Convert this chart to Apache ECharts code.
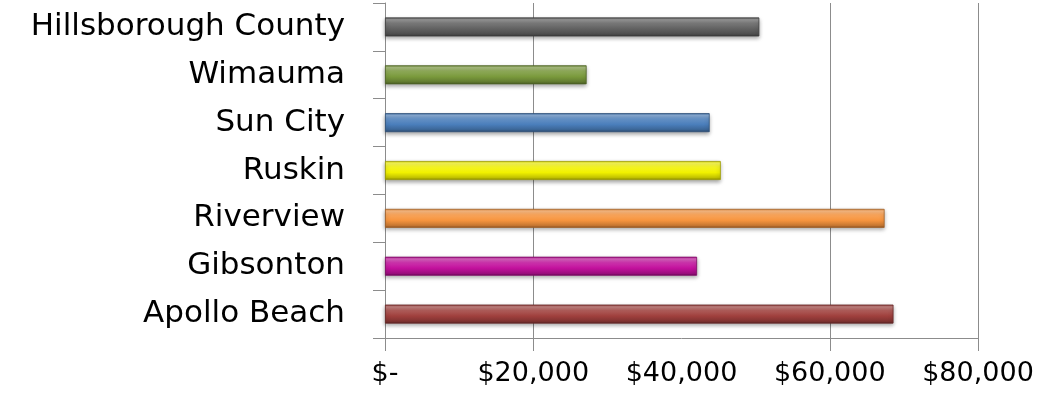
<!doctype html>
<html>
    <head>
        <meta charset="utf-8">
        <title>Median income bars</title>
        <style>
            html, body { margin: 0; padding: 0; background: #fff; }
            #main { width: 1042px; height: 393px; }
        </style>
    </head>
    <body>
        <div id="main"></div>
        <script src="https://cdn.jsdelivr.net/npm/echarts@6/dist/echarts.min.js"></script>
        <script>
            // top to bottom, as in the picture
            var places = ['Hillsborough County', 'Wimauma', 'Sun City', 'Ruskin', 'Riverview', 'Gibsonton', 'Apollo Beach'];
            var incomes = [50500, 27200, 43800, 45300, 67400, 42100, 68600];
            var barColors = ['#616161', '#7a9a3c', '#4a7ebb', '#f2f200', '#f7953f', '#c3119d', '#a0403d'];
            var tickValues = [0, 20000, 40000, 60000, 80000];
            var gridValues = [0, 20000, 60000, 80000];

            function shade(hex, amt) {
                var n = parseInt(hex.slice(1), 16);
                var r = n >> 16, g = (n >> 8) & 255, b = n & 255;
                function f(c) {
                    c = amt > 0 ? c + (255 - c) * amt : c * (1 + amt);
                    return Math.round(Math.max(0, Math.min(255, c)));
                }
                return 'rgb(' + f(r) + ',' + f(g) + ',' + f(b) + ')';
            }

            function bevel(c) {
                return new echarts.graphic.LinearGradient(0, 0, 0, 1, [
                    { offset: 0, color: shade(c, -0.1) },
                    { offset: 0.12, color: shade(c, 0.35) },
                    { offset: 0.3, color: shade(c, 0.15) },
                    { offset: 0.6, color: c },
                    { offset: 0.88, color: shade(c, -0.2) },
                    { offset: 1, color: shade(c, -0.45) }
                ]);
            }

            var chart = echarts.init(document.getElementById('main'));

            chart.setOption({
                animation: false,
                grid: { left: 385, right: 64, top: 3, bottom: 55, containLabel: false },
                xAxis: {
                    type: 'value',
                    min: 0,
                    max: 80000,
                    interval: 20000,
                    axisLine: { show: true, lineStyle: { color: '#8c8c8c', width: 1 } },
                    axisTick: { show: true, length: 13, customValues: gridValues, lineStyle: { color: '#8c8c8c' } },
                    splitLine: { show: true, lineStyle: { color: '#8c8c8c', width: 1 } },
                    axisLabel: {
                        customValues: tickValues,
                        margin: 22,
                        color: '#000',
                        fontFamily: 'DejaVu Sans',
                        fontSize: 27,
                        formatter: function (v) {
                            return v === 0 ? '$-' : '$' + v.toLocaleString('en-US');
                        }
                    }
                },
                yAxis: {
                    type: 'category',
                    inverse: true,
                    data: places,
                    axisLine: { show: true, lineStyle: { color: '#8c8c8c', width: 1 } },
                    axisTick: { show: true, length: 12, lineStyle: { color: '#8c8c8c' } },
                    axisLabel: {
                        margin: 40,
                        color: '#000',
                        fontFamily: 'DejaVu Sans',
                        fontSize: 31
                    }
                },
                series: [{
                    type: 'bar',
                    barWidth: 19,
                    data: incomes.map(function (v, i) {
                        return {
                            value: v,
                            itemStyle: {
                                color: bevel(barColors[i]),
                                borderColor: shade(barColors[i], -0.35),
                                borderWidth: 0.8,
                                shadowColor: 'rgba(0,0,0,0.35)',
                                shadowBlur: 4,
                                shadowOffsetY: 2
                            }
                        };
                    })
                }]
            });
        </script>
    </body>
</html>
